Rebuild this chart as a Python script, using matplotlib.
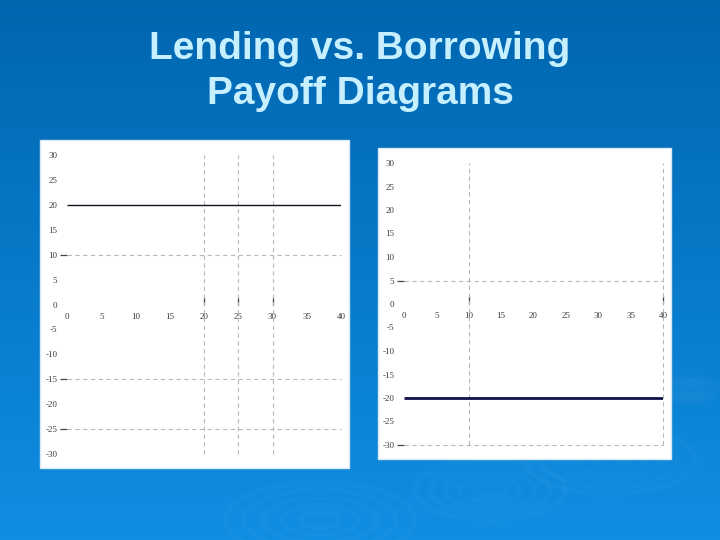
import numpy as np
import matplotlib
matplotlib.use("Agg")
import matplotlib.pyplot as plt
from matplotlib.patches import Rectangle, Ellipse

matplotlib.rcParams["axes.unicode_minus"] = False

# 데이터
x_ticks = [0, 5, 10, 15, 20, 25, 30, 35, 40]
y_ticks = [-30, -25, -20, -15, -10, -5, 0, 5, 10, 15, 20, 25, 30]

lend_x = [0, 40]
lend_y = [20, 20]
lend_grid_x = [20, 25, 30]
lend_grid_y = [10, -15, -25]

borrow_x = [0, 40]
borrow_y = [-20, -20]
borrow_grid_x = [10, 40]
borrow_grid_y = [5, -30]

TITLE = "Lending vs. Borrowing\nPayoff Diagrams"

_TOP = np.array([0x00, 0x66, 0xB0]) / 255
_BOT = np.array([0x10, 0x8E, 0xE2]) / 255
_TITLE_C = "#c6efff"
_GRID_C = "#b8b8b8"
_TICK_C = "#3a3a3a"

fig = plt.figure(figsize=(7.2, 5.4), dpi=100)

# 배경 그라데이션
bg = fig.add_axes([0, 0, 1, 1], zorder=-10)
t = np.linspace(0, 1, 256)[:, None, None]
grad = _TOP * (1 - t) + _BOT * t
bg.imshow(np.repeat(grad, 2, axis=1), aspect="auto", extent=(0, 720, 540, 0))
for cx, cy, r in [(320, 520, 95), (490, 490, 75), (610, 460, 85), (690, 390, 30)]:
    for k in range(1, 6):
        bg.add_patch(Ellipse((cx, cy), 2 * r * k / 5, 0.8 * r * k / 5,
                             fill=False, ec="white", lw=4, alpha=0.025))
# 흰 패널
bg.add_patch(Rectangle((40, 140), 309, 328, fc="white", ec="#d8e8f4", lw=1))
bg.add_patch(Rectangle((378, 148), 293, 311, fc="white", ec="#d8e8f4", lw=1))
bg.set_xlim(0, 720)
bg.set_ylim(540, 0)
bg.axis("off")

fig.text(0.5, 0.868, TITLE, ha="center", va="center", color=_TITLE_C,
         fontsize=28, fontweight="bold", family="Liberation Sans", linespacing=1.33)


def payoff(ax, xs, ys, gx, gy, lw, color):
    ax.set_facecolor("none")
    ax.set_xlim(0, 40)
    ax.set_ylim(-30, 30)
    for v in gx:
        ax.axvline(v, color=_GRID_C, ls=(0, (4, 3)), lw=0.8, clip_on=False)
    for v in gy:
        ax.axhline(v, color=_GRID_C, ls=(0, (4, 3)), lw=0.8, clip_on=False)
    ax.plot(xs, ys, color=color, lw=lw, solid_capstyle="butt")
    for s in ["top", "right", "left", "bottom"]:
        ax.spines[s].set_visible(False)
    ax.spines["bottom"].set_position(("data", 0))
    ax.xaxis.remove_overlapping_locs = False
    ax.yaxis.remove_overlapping_locs = False
    ax.set_xticks(x_ticks)
    ax.set_yticks(y_ticks)
    ax.set_xticks(gx, minor=True)
    ax.set_yticks(gy, minor=True)
    ax.tick_params(which="major", length=0, labelsize=6.5, labelcolor=_TICK_C)
    ax.tick_params(axis="x", which="major", pad=6)
    ax.tick_params(axis="y", which="major", pad=7)
    ax.tick_params(axis="x", which="minor", direction="in", length=6, width=0.9, color="#444444")
    ax.tick_params(axis="y", which="minor", direction="out", length=5, width=0.9, color="#444444")
    for lab in ax.get_xticklabels() + ax.get_yticklabels():
        lab.set_family("Liberation Serif")


ax1 = fig.add_axes([67 / 720, 1 - 454 / 540, 274 / 720, 299 / 540])
payoff(ax1, lend_x, lend_y, lend_grid_x, lend_grid_y, 1.0, "#111122")

ax2 = fig.add_axes([404 / 720, 1 - 445 / 540, 259 / 720, 282 / 540])
payoff(ax2, borrow_x, borrow_y, borrow_grid_x, borrow_grid_y, 2.0, "#10104a")

fig.savefig("out.png", dpi=100)
